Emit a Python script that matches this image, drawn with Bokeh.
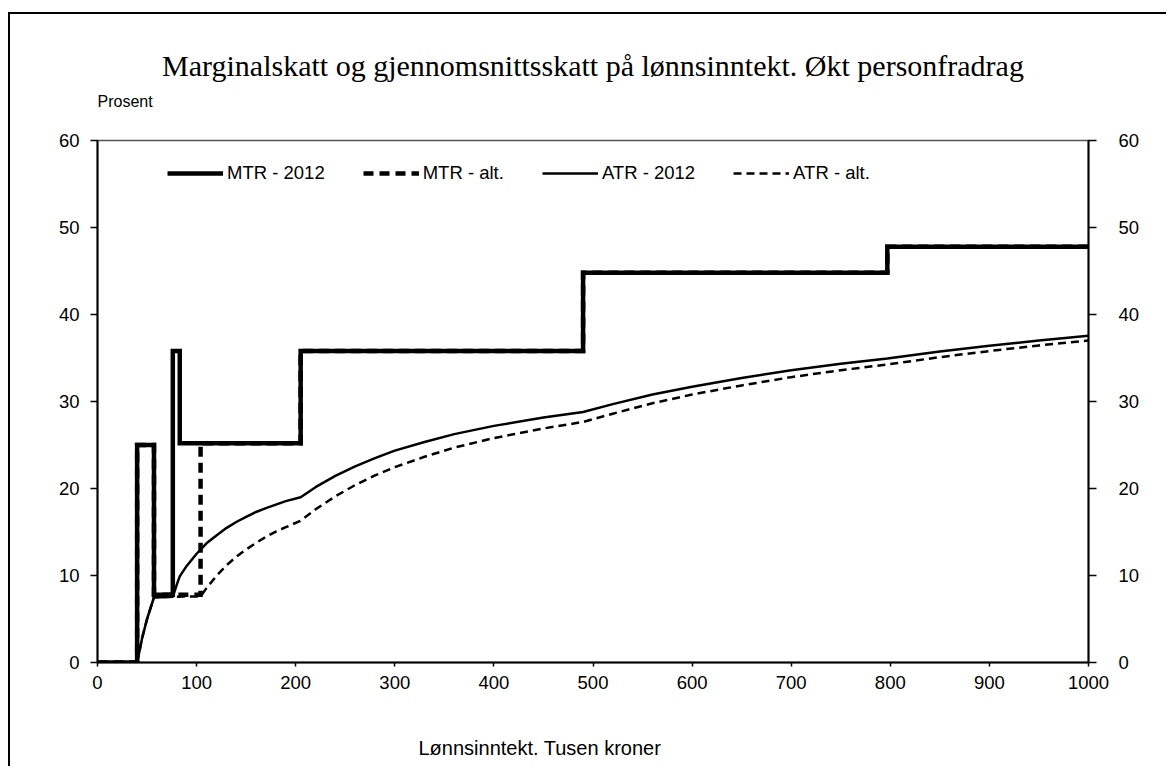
from bokeh.plotting import figure
from bokeh.models import Range1d, LinearAxis, Title, Legend, LegendItem, FixedTicker
from bokeh.embed import file_html
from bokeh.resources import INLINE

# Marginal tax rate (step function), income in 1000 NOK, rate in percent
mtr2012_x = [0, 40, 40, 57, 57, 76, 76, 83, 83, 205, 205, 490, 490, 797, 797, 1000]
mtr2012_y = [0, 0, 25, 25, 7.8, 7.8, 35.8, 35.8, 25.2, 25.2, 35.8, 35.8, 44.8, 44.8, 47.8, 47.8]

mtralt_x = [0, 40, 40, 57, 57, 104, 104, 205, 205, 490, 490, 797, 797, 1000]
mtralt_y = [0, 0, 25, 25, 7.8, 7.8, 25.2, 25.2, 35.8, 35.8, 44.8, 44.8, 47.8, 47.8]

# Average tax rate
atr2012_x = [0, 40, 45, 50, 57, 65, 76, 80, 83, 90, 100, 110, 120, 130, 140, 150, 160, 170,
             180, 190, 205, 220, 240, 260, 280, 300, 330, 360, 400, 450, 490, 520, 560, 600,
             650, 700, 750, 797, 850, 900, 950, 1000]
atr2012_y = [0, 0, 2.8, 5.0, 7.5, 7.5, 7.55, 8.95, 9.9, 11.1, 12.5, 13.7, 14.6, 15.45, 16.15,
             16.75, 17.3, 17.75, 18.15, 18.55, 19.0, 20.15, 21.45, 22.55, 23.5, 24.35, 25.35,
             26.25, 27.2, 28.15, 28.8, 29.7, 30.8, 31.7, 32.7, 33.6, 34.35, 34.95, 35.75, 36.4,
             37.0, 37.55]

atralt_x = [0, 40, 45, 50, 57, 76, 90, 104, 110, 120, 130, 140, 150, 160, 170, 180, 190, 205,
            220, 240, 260, 280, 300, 330, 360, 400, 450, 490, 520, 560, 600, 650, 700, 750,
            797, 850, 900, 950, 1000]
atralt_y = [0, 0, 2.8, 5.0, 7.5, 7.55, 7.6, 7.6, 8.55, 9.95, 11.15, 12.15, 13.0, 13.75, 14.45,
            15.05, 15.55, 16.3, 17.6, 19.1, 20.4, 21.5, 22.45, 23.65, 24.7, 25.8, 26.9, 27.65,
            28.6, 29.8, 30.8, 31.85, 32.8, 33.6, 34.25, 35.1, 35.8, 36.45, 37.0]

x_ticks = [0, 100, 200, 300, 400, 500, 600, 700, 800, 900, 1000]
y_ticks = [0, 10, 20, 30, 40, 50, 60]

title_text = "Marginalskatt og gjennomsnittsskatt på lønnsinntekt. Økt personfradrag"
y_label = "Prosent"
x_label = "Lønnsinntekt. Tusen kroner"
labels = ["MTR - 2012", "MTR - alt.", "ATR - 2012", "ATR - alt."]

FONT = "Liberation Sans"
FS = "18.5px"

p = figure(frame_width=991, frame_height=522, output_backend="svg", toolbar_location=None,
           x_range=Range1d(0, 1000), y_range=Range1d(0, 60),
           min_border_left=87, min_border_right=78, min_border_top=126, min_border_bottom=104,
           background_fill_color="white", border_fill_color="white")
p.styles = {"border-left": "2px solid black", "border-top": "2px solid black",
            "margin-top": "12px", "margin-left": "8px"}

p.grid.visible = False
p.outline_line_color = "#555555"
p.outline_line_width = 1.5

r1 = p.line(mtr2012_x, mtr2012_y, line_color="black", line_width=4.5, line_join="miter")
r2 = p.line(mtralt_x, mtralt_y, line_color="black", line_width=4.5, line_dash="10 6", line_join="miter")
r3 = p.line(atr2012_x, atr2012_y, line_color="black", line_width=2.5)
r4 = p.line(atralt_x, atralt_y, line_color="black", line_width=2.5, line_dash="8 5")

for ax in [p.xaxis[0], p.yaxis[0]]:
    ax.axis_line_color = "black"
    ax.axis_line_width = 2
    ax.major_tick_line_color = "black"
    ax.major_tick_line_width = 1.5
    ax.minor_tick_line_color = None
    ax.major_tick_in = 0
    ax.major_label_text_font = FONT
    ax.major_label_text_font_size = FS
    ax.major_label_text_color = "black"

p.xaxis[0].ticker = FixedTicker(ticks=x_ticks)
p.xaxis[0].major_tick_out = 4
p.xaxis[0].major_label_standoff = 9
p.yaxis[0].ticker = FixedTicker(ticks=y_ticks)
p.yaxis[0].major_tick_out = 7
p.yaxis[0].major_label_standoff = 11

ra = LinearAxis(ticker=FixedTicker(ticks=y_ticks))
ra.axis_line_color = "black"
ra.axis_line_width = 2
ra.major_tick_line_color = "black"
ra.major_tick_line_width = 1.5
ra.minor_tick_line_color = None
ra.major_tick_in = 0
ra.major_tick_out = 8
ra.major_label_standoff = 22
ra.major_label_text_font = FONT
ra.major_label_text_font_size = FS
ra.major_label_text_color = "black"
p.add_layout(ra, "right")


def spacer(standoff):
    # a blank title used only to reserve vertical room
    return Title(text=" ", text_font=FONT, text_font_size="10px", standoff=standoff)


legend = Legend(items=[LegendItem(label=labels[0], renderers=[r1]),
                       LegendItem(label=labels[1], renderers=[r2]),
                       LegendItem(label=labels[2], renderers=[r3]),
                       LegendItem(label=labels[3], renderers=[r4])],
                orientation="horizontal", location=(70, 478))
legend.label_text_font = FONT
legend.label_text_font_size = FS
legend.label_text_color = "black"
legend.glyph_width = 56
legend.label_standoff = 4
legend.spacing = 38
legend.padding = 5
legend.margin = 0
legend.border_line_color = None
legend.background_fill_alpha = 0
p.add_layout(legend, "center")

# above the frame: spacer, then "Prosent", then the main title
p.add_layout(spacer(17), "above")
p.add_layout(Title(text=y_label, align="left", text_font=FONT, text_font_size="16px",
                   text_font_style="normal", text_color="black", standoff=2), "above")
p.add_layout(Title(text=title_text, align="center", text_font="Liberation Serif",
                   text_font_size="30px", text_font_style="normal", text_color="black",
                   standoff=15), "above")
# below the x axis: spacer, then the axis caption
p.add_layout(spacer(29), "below")
p.add_layout(Title(text=x_label, align="left", offset=321, text_font=FONT,
                   text_font_size="20px", text_font_style="normal", text_color="black",
                   standoff=2), "below")

open("out.html", "w").write(file_html(p, INLINE))
